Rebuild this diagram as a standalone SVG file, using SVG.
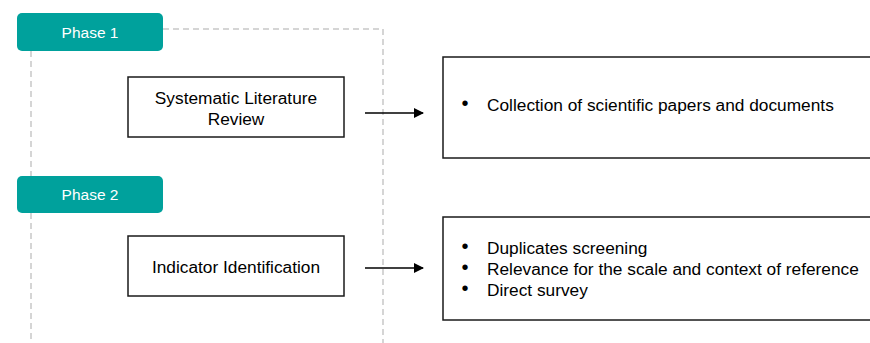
<svg xmlns="http://www.w3.org/2000/svg" width="870" height="343" viewBox="0 0 870 343">
<defs>
<style>
.phase{fill:#00A19C;}
.ptext{fill:#ffffff;font-family:"Liberation Sans",Arial,sans-serif;font-size:15.5px;text-anchor:middle;}
.box{fill:#ffffff;stroke:#1a1a1a;stroke-width:1.5;}
.txt{fill:#000000;font-family:"Liberation Sans",Arial,sans-serif;font-size:17.3px;}
.bul{fill:#000000;font-family:"Liberation Sans",Arial,sans-serif;font-size:20px;text-anchor:middle;}
.mid{text-anchor:middle;}
.dash{fill:none;stroke:#c8c8c8;stroke-width:1.5;stroke-dasharray:6 4;}
.arrow{stroke:#000000;stroke-width:1.5;fill:none;marker-end:url(#ah);}
</style>
<marker id="ah" markerWidth="10" markerHeight="10" refX="9" refY="5" orient="auto" markerUnits="userSpaceOnUse">
<path d="M0,0 L10,5 L0,10 z" fill="#000000"/>
</marker>
</defs>
<rect width="870" height="343" fill="#ffffff"/>
<g id="guides">
<path class="dash" d="M163,29 H383 V343"/>
<path class="dash" d="M31,51 V176"/>
<path class="dash" d="M31,213 V343"/>
</g>
<g id="phase1">
<rect class="phase" x="17" y="13" width="146" height="38" rx="5"/>
<text class="ptext" x="90" y="38">Phase 1</text>
</g>
<g id="phase2">
<rect class="phase" x="17" y="176" width="146" height="37" rx="5"/>
<text class="ptext" x="90" y="200">Phase 2</text>
</g>
<g id="slr">
<rect class="box" x="128" y="77" width="216" height="60"/>
<text class="txt mid" x="236" y="104">Systematic Literature</text>
<text class="txt mid" x="236" y="125">Review</text>
</g>
<g id="ind">
<rect class="box" x="128" y="236" width="216" height="60"/>
<text class="txt mid" x="236" y="273">Indicator Identification</text>
</g>
<g id="out1">
<rect class="box" x="443" y="57" width="440" height="101"/>
<text class="bul" x="465" y="110">•</text>
<text class="txt" x="487" y="111">Collection of scientific papers and documents</text>
</g>
<g id="out2">
<rect class="box" x="443" y="217" width="440" height="103"/>
<text class="bul" x="465" y="253">•</text>
<text class="txt" x="487" y="254">Duplicates screening</text>
<text class="bul" x="465" y="274">•</text>
<text class="txt" x="487" y="275">Relevance for the scale and context of reference</text>
<text class="bul" x="465" y="295">•</text>
<text class="txt" x="487" y="296">Direct survey</text>
</g>
<g id="connectors">
<line class="arrow" x1="365" y1="113" x2="423" y2="113"/>
<line class="arrow" x1="365" y1="268" x2="423" y2="268"/>
</g>
</svg>
